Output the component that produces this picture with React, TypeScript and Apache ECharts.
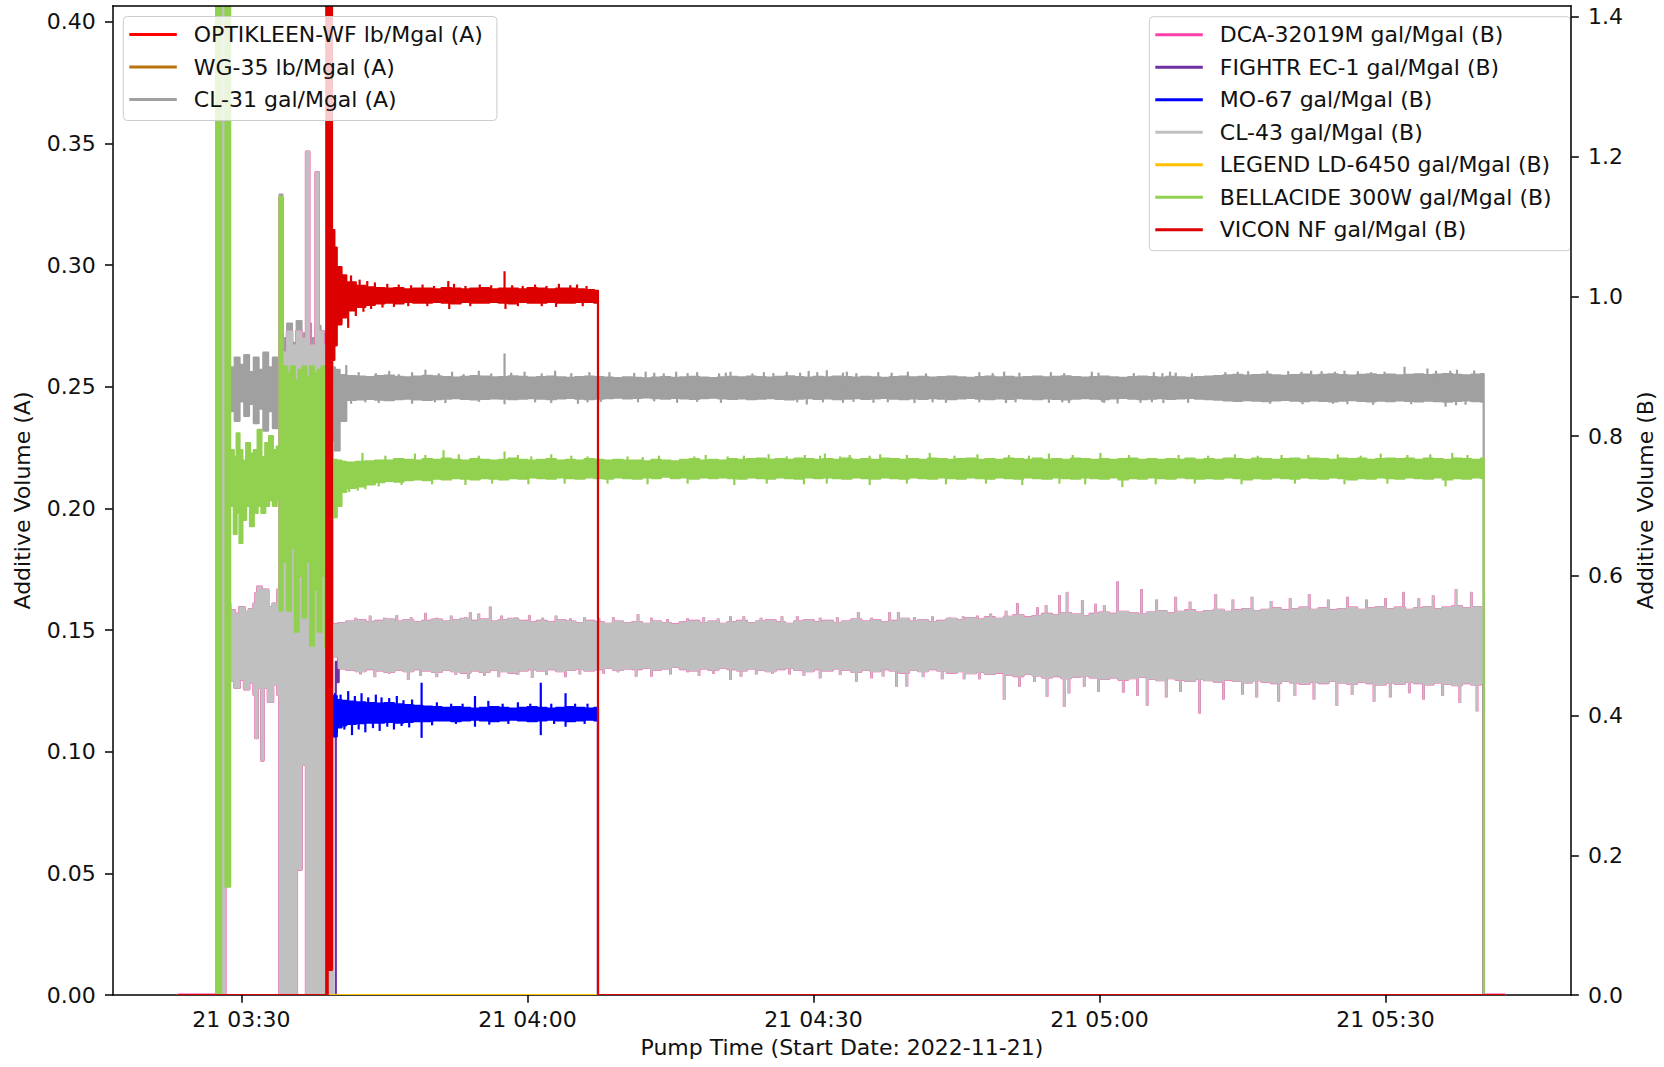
import React, { useEffect, useRef } from "react";
import * as echarts from "echarts";

// Time values are minutes after 2022-11-21 03:00.
type Row = [number, number, number]; // [minute, low envelope, high envelope]
type Spike = [number, number]; // [minute, extreme value of a short excursion]

const X_MIN = 16.5;
const X_MAX = 169.47;
const LEFT_MAX = 0.4065;
const RIGHT_MAX = 1.4157;
const xTickMinutes = [30, 60, 90, 120, 150];
const leftTicks = [0, 0.05, 0.1, 0.15, 0.2, 0.25, 0.3, 0.35, 0.4];
const rightTicks = [0, 0.2, 0.4, 0.6, 0.8, 1.0, 1.2, 1.4];

const startMin = 23.4;
const endMin = 162.5;
const gridStart = 41; // one core reading per minute from 03:41

const seriesNames = [
  "OPTIKLEEN-WF lb/Mgal (A)",
  "WG-35 lb/Mgal (A)",
  "CL-31 gal/Mgal (A)",
  "DCA-32019M gal/Mgal (B)",
  "FIGHTR EC-1 gal/Mgal (B)",
  "MO-67 gal/Mgal (B)",
  "CL-43 gal/Mgal (B)",
  "LEGEND LD-6450 gal/Mgal (B)",
  "BELLACIDE 300W gal/Mgal (B)",
  "VICON NF gal/Mgal (B)",
];
const seriesAxis = [0, 0, 0, 1, 1, 1, 1, 1, 1, 1];
const seriesColors = [
  "#ff0000", "#b8720e", "#a0a0a0", "#ff40a8", "#7030a0",
  "#0000ff", "#c0c0c0", "#ffc000", "#92d050", "#dc0000",
];

const zeroRows: Row[] = [[startMin, 0, 0], [endMin, 0, 0]];
const endRows: Row[] = [[160.3, 0, 0], [endMin, 0, 0]];
const dropRows: Row[] = [[67.4, 0, 0], [endMin, 0, 0]];

// ---------- CL-31 (A) ----------
const cl31Early: Row[] = [
  [23.4, 0, 0], [27.9, 0, 0.5], [28.25, 0.24, 0.26],
  [28.8, 0.240, 0.258], [29.3, 0.236, 0.262], [29.8, 0.244, 0.259], [30.3, 0.238, 0.263],
  [30.8, 0.243, 0.256], [31.3, 0.235, 0.262], [31.8, 0.241, 0.257], [32.3, 0.232, 0.264],
  [32.8, 0.240, 0.258], [33.3, 0.233, 0.262], [33.8, 0.242, 0.260], [34.0, 0.240, 0.329],
  [34.3, 0.250, 0.270], [34.8, 0.250, 0.276], [35.3, 0.250, 0.268], [35.8, 0.250, 0.277],
  [36.3, 0.250, 0.272], [36.8, 0.250, 0.276], [37.3, 0.250, 0.270], [37.8, 0.250, 0.275],
  [38.3, 0.250, 0.272], [38.8, 0.245, 0.262], [39.5, 0.228, 0.258], [39.8, 0.2238, 0.257],
  [40.3, 0.236, 0.2548],
];
const cl31Hi = [
  0.2544, 0.2542, 0.2540, 0.2544, 0.2546, 0.2541, 0.2539, 0.2542, 0.2545, 0.2543,
  0.2540, 0.2538, 0.2541, 0.2544, 0.2542, 0.2539, 0.2540, 0.2543, 0.2541, 0.2538,
  0.2540, 0.2542, 0.2539, 0.2537, 0.2540, 0.2542, 0.2540, 0.2538, 0.2536, 0.2539,
  0.2537, 0.2535, 0.2538, 0.2540, 0.2537, 0.2539, 0.2541, 0.2538, 0.2536, 0.2539,
  0.2541, 0.2539, 0.2542, 0.2540, 0.2538, 0.2541, 0.2543, 0.2540, 0.2538, 0.2541,
  0.2539, 0.2542, 0.2540, 0.2538, 0.2541, 0.2539, 0.2537, 0.2540, 0.2542, 0.2539,
  0.2541, 0.2538, 0.2540, 0.2542, 0.2539, 0.2537, 0.2540, 0.2542, 0.2539, 0.2541,
  0.2538, 0.2540, 0.2542, 0.2539, 0.2541, 0.2543, 0.2540, 0.2538, 0.2540, 0.2542,
  0.2539, 0.2537, 0.2540, 0.2542, 0.2540, 0.2538, 0.2541, 0.2539, 0.2537, 0.2540,
  0.2542, 0.2544, 0.2547, 0.2549, 0.2546, 0.2548, 0.2550, 0.2547, 0.2545, 0.2548,
  0.2550, 0.2547, 0.2549, 0.2551, 0.2548, 0.2546, 0.2549, 0.2551, 0.2548, 0.2550,
  0.2547, 0.2549, 0.2551, 0.2548, 0.2550, 0.2552, 0.2549, 0.2547, 0.2550, 0.2552,
];
const cl31Lo = [
  0.2446, 0.2448, 0.2450, 0.2447, 0.2445, 0.2449, 0.2451, 0.2448, 0.2446, 0.2449,
  0.2451, 0.2453, 0.2450, 0.2448, 0.2450, 0.2452, 0.2451, 0.2449, 0.2451, 0.2453,
  0.2451, 0.2449, 0.2452, 0.2454, 0.2451, 0.2449, 0.2451, 0.2453, 0.2455, 0.2452,
  0.2454, 0.2456, 0.2453, 0.2451, 0.2454, 0.2452, 0.2450, 0.2453, 0.2455, 0.2452,
  0.2450, 0.2452, 0.2449, 0.2451, 0.2453, 0.2450, 0.2448, 0.2451, 0.2453, 0.2450,
  0.2452, 0.2449, 0.2451, 0.2453, 0.2450, 0.2452, 0.2454, 0.2451, 0.2449, 0.2452,
  0.2450, 0.2453, 0.2451, 0.2449, 0.2452, 0.2454, 0.2451, 0.2449, 0.2452, 0.2450,
  0.2453, 0.2451, 0.2449, 0.2452, 0.2450, 0.2448, 0.2451, 0.2453, 0.2451, 0.2449,
  0.2452, 0.2454, 0.2451, 0.2449, 0.2451, 0.2453, 0.2450, 0.2452, 0.2454, 0.2451,
  0.2449, 0.2447, 0.2444, 0.2442, 0.2445, 0.2443, 0.2441, 0.2444, 0.2446, 0.2443,
  0.2441, 0.2444, 0.2442, 0.2440, 0.2443, 0.2445, 0.2442, 0.2440, 0.2443, 0.2441,
  0.2444, 0.2442, 0.2440, 0.2443, 0.2441, 0.2439, 0.2442, 0.2444, 0.2441, 0.2439,
];
const cl31Spikes: Spike[] = [
  [41.0, 0.2589], [42.3, 0.2560], [44.1, 0.2556], [45.5, 0.2565], [46.5, 0.2552], [47.9, 0.2560],
  [49.3, 0.2570], [50.7, 0.2555], [52.1, 0.2562], [53.3, 0.2552], [54.9, 0.2566], [56.2, 0.2555],
  [57.6, 0.2637], [58.3, 0.2558], [59.7, 0.2562], [61.5, 0.2555], [62.9, 0.2566], [64.6, 0.2556],
  [66.5, 0.2560], [68.6, 0.2560], [71.2, 0.2557], [72.4, 0.2562], [73.3, 0.2558], [74.3, 0.2555],
  [75.6, 0.2562], [76.8, 0.2556], [77.8, 0.2560], [80.1, 0.2555], [80.8, 0.2558], [81.3, 0.2562],
  [83.6, 0.2555], [84.8, 0.2560], [85.8, 0.2556], [87.2, 0.2562], [88.6, 0.2558], [89.5, 0.2565],
  [90.4, 0.2560], [91.4, 0.2568], [93.1, 0.2558], [93.5, 0.2562], [94.5, 0.2556], [96.8, 0.2560],
  [98.2, 0.2558], [99.9, 0.2562], [101.8, 0.2555], [107.4, 0.2560], [108.8, 0.2556], [110.0, 0.2562],
  [111.6, 0.2558], [114.9, 0.2560], [116.3, 0.2556], [119.2, 0.2562], [119.9, 0.2558], [123.6, 0.2556],
  [125.7, 0.2560], [126.6, 0.2556], [127.4, 0.2562], [128.0, 0.2558], [129.7, 0.2555], [133.2, 0.2560],
  [134.5, 0.2562], [135.6, 0.2564], [137.6, 0.2566], [139.8, 0.2564], [141.2, 0.2562], [142.2, 0.2566],
  [143.3, 0.2564], [144.7, 0.2562], [145.7, 0.2566], [147.1, 0.2564], [148.5, 0.2560], [149.9, 0.2562],
  [152.0, 0.2582], [154.4, 0.2575], [155.3, 0.2566], [156.8, 0.2566], [157.5, 0.2570], [159.3, 0.2567],
  [41.5, 0.2430], [43.0, 0.2436], [44.4, 0.2433], [47.9, 0.2430], [50.3, 0.2436], [51.4, 0.2433],
  [54.9, 0.2438], [57.6, 0.2428], [60.8, 0.2436], [62.5, 0.2433], [65.3, 0.2430], [66.3, 0.2436],
  [67.7, 0.2438], [71.6, 0.2436], [73.3, 0.2440], [75.7, 0.2434], [77.8, 0.2438], [80.3, 0.2434],
  [88.3, 0.2436], [89.3, 0.2427], [91.0, 0.2436], [93.1, 0.2434], [94.2, 0.2438], [96.3, 0.2434],
  [97.8, 0.2436], [100.6, 0.2433], [102.5, 0.2436], [103.9, 0.2434], [107.4, 0.2436], [110.2, 0.2433],
  [111.2, 0.2436], [114.7, 0.2434], [116.1, 0.2436], [116.8, 0.2433], [120.3, 0.2436], [120.5, 0.2434],
  [121.9, 0.2431], [124.3, 0.2434], [125.5, 0.2436], [126.7, 0.2433], [129.3, 0.2434], [137.9, 0.2430],
  [141.3, 0.2428], [144.5, 0.2430], [146.0, 0.2428], [148.7, 0.2426], [152.7, 0.2428], [156.3, 0.2418],
  [157.4, 0.2424], [158.4, 0.2426],
];

// ---------- BELLACIDE 300W (B) ----------
const bellEarly: Row[] = [
  [23.4, 0, 0], [27.35, 0, 1.6], [27.87, 1.6, 1.6], [28.33, 0.155, 1.6],
  [28.82, 0.70, 0.78], [29.2, 0.66, 0.77], [29.5, 0.69, 0.804], [29.8, 0.647, 0.78],
  [30.1, 0.68, 0.765], [30.5, 0.70, 0.79], [30.9, 0.671, 0.775], [31.3, 0.69, 0.78],
  [31.7, 0.70, 0.809], [32.1, 0.69, 0.77], [32.5, 0.70, 0.79], [32.9, 0.708, 0.80],
  [33.3, 0.70, 0.78], [33.7, 0.71, 0.785], [34.0, 0.55, 1.142], [34.3, 0.62, 0.90],
  [34.8, 0.55, 0.89], [35.2, 0.64, 0.90], [35.6, 0.52, 0.88], [36.0, 0.60, 0.895],
  [36.4, 0.54, 0.90], [36.8, 0.62, 0.885], [37.2, 0.50, 0.90], [37.6, 0.58, 0.89],
  [38.0, 0.52, 0.895], [38.4, 0.60, 0.90], [38.8, 0.498, 0.88], [39.5, 0.684, 0.766],
  [40.0, 0.70, 0.765], [40.5, 0.72, 0.763],
];
const bellHi = [
  0.762, 0.763, 0.764, 0.765, 0.765, 0.767, 0.766, 0.765, 0.767, 0.766,
  0.768, 0.766, 0.765, 0.767, 0.766, 0.765, 0.766, 0.768, 0.766, 0.765,
  0.766, 0.767, 0.765, 0.766, 0.765, 0.767, 0.766, 0.765, 0.766, 0.765,
  0.765, 0.764, 0.766, 0.765, 0.764, 0.766, 0.767, 0.765, 0.766, 0.765,
  0.767, 0.766, 0.767, 0.768, 0.766, 0.767, 0.766, 0.768, 0.767, 0.766,
  0.767, 0.766, 0.768, 0.766, 0.767, 0.766, 0.768, 0.767, 0.766, 0.767,
  0.766, 0.768, 0.767, 0.766, 0.767, 0.768, 0.766, 0.767, 0.766, 0.768,
  0.767, 0.766, 0.768, 0.766, 0.767, 0.766, 0.768, 0.767, 0.766, 0.767,
  0.766, 0.767, 0.768, 0.766, 0.767, 0.766, 0.767, 0.766, 0.768, 0.766,
  0.767, 0.766, 0.768, 0.767, 0.766, 0.768, 0.767, 0.766, 0.767, 0.768,
  0.766, 0.768, 0.767, 0.766, 0.768, 0.767, 0.768, 0.766, 0.767, 0.768,
  0.767, 0.768, 0.766, 0.768, 0.767, 0.766, 0.768, 0.767, 0.766, 0.768,
];
const bellLo = [
  0.726, 0.728, 0.731, 0.734, 0.736, 0.735, 0.737, 0.738, 0.737, 0.739,
  0.738, 0.740, 0.739, 0.738, 0.740, 0.739, 0.738, 0.740, 0.739, 0.741,
  0.740, 0.739, 0.741, 0.740, 0.739, 0.741, 0.740, 0.739, 0.741, 0.740,
  0.739, 0.741, 0.740, 0.742, 0.740, 0.741, 0.739, 0.741, 0.740, 0.741,
  0.740, 0.739, 0.741, 0.740, 0.739, 0.741, 0.740, 0.739, 0.741, 0.740,
  0.741, 0.740, 0.739, 0.741, 0.740, 0.739, 0.741, 0.740, 0.739, 0.741,
  0.740, 0.739, 0.741, 0.740, 0.739, 0.741, 0.740, 0.739, 0.741, 0.740,
  0.739, 0.741, 0.740, 0.739, 0.741, 0.740, 0.739, 0.741, 0.740, 0.739,
  0.741, 0.738, 0.740, 0.739, 0.741, 0.740, 0.739, 0.741, 0.740, 0.739,
  0.740, 0.739, 0.741, 0.740, 0.738, 0.740, 0.739, 0.741, 0.740, 0.739,
  0.741, 0.740, 0.739, 0.741, 0.740, 0.738, 0.740, 0.739, 0.741, 0.740,
  0.739, 0.741, 0.740, 0.739, 0.741, 0.738, 0.740, 0.739, 0.741, 0.740,
];
const bellSpikes: Spike[] = [
  [42.7, 0.776], [45.1, 0.772], [48.2, 0.775], [49.3, 0.773], [51.2, 0.780], [52.8, 0.774],
  [54.9, 0.772], [57.6, 0.778], [59.0, 0.773], [60.4, 0.771], [62.5, 0.774], [64.6, 0.772],
  [66.3, 0.771], [70.5, 0.771], [72.1, 0.770], [73.8, 0.772], [77.5, 0.771], [78.7, 0.773],
  [81.0, 0.771], [82.7, 0.772], [85.3, 0.774], [87.2, 0.771], [89.1, 0.773], [90.7, 0.772],
  [91.2, 0.775], [92.8, 0.771], [93.8, 0.773], [95.9, 0.772], [97.0, 0.774], [99.8, 0.773],
  [102.2, 0.776], [104.8, 0.772], [107.2, 0.774], [110.5, 0.773], [112.6, 0.772], [114.7, 0.775],
  [117.2, 0.773], [120.1, 0.776], [123.1, 0.773], [128.3, 0.773], [131.4, 0.772], [134.2, 0.774],
  [136.6, 0.772], [139.1, 0.773], [141.9, 0.773], [145.0, 0.774], [147.4, 0.772], [149.5, 0.775],
  [152.3, 0.773], [154.7, 0.774], [157.0, 0.776], [158.6, 0.773],
  [41.3, 0.720], [42.2, 0.722], [43.0, 0.724], [44.4, 0.728], [46.8, 0.730], [50.0, 0.731],
  [53.5, 0.730], [56.3, 0.732], [60.1, 0.731], [63.9, 0.732], [68.4, 0.732], [72.6, 0.731],
  [76.8, 0.732], [81.7, 0.730], [85.1, 0.732], [89.0, 0.731], [91.4, 0.732], [95.9, 0.730],
  [99.8, 0.732], [103.9, 0.731], [108.1, 0.732], [111.9, 0.730], [115.8, 0.732], [118.5, 0.731],
  [122.4, 0.727], [125.9, 0.731], [130.0, 0.732], [134.9, 0.731], [140.5, 0.732], [145.7, 0.731],
  [150.2, 0.732], [156.3, 0.728],
];

// ---------- CL-43 (B); DCA-32019M reads the same, visible only at the edges ----------
const cl43Early: Row[] = [
  [23.4, 0, 0], [27.9, 0, 1.6], [28.3, 0.45, 0.56],
  [28.8, 0.45, 0.55], [29.3, 0.44, 0.545], [29.8, 0.452, 0.555], [30.3, 0.438, 0.548],
  [30.8, 0.448, 0.552], [31.3, 0.43, 0.56], [31.5, 0.368, 0.575], [31.7, 0.44, 0.584],
  [32.1, 0.336, 0.57], [32.3, 0.44, 0.58], [32.8, 0.42, 0.555], [33.3, 0.445, 0.56],
  [33.8, 0.43, 0.58], [34.0, 0, 1.14], [34.3, 0, 0.92], [34.8, 0, 0.95], [35.3, 0, 0.93],
  [35.8, 0.18, 0.95], [36.3, 0.33, 0.94], [36.8, 0, 1.207], [37.1, 0, 0.93],
  [37.8, 0, 1.177], [38.1, 0, 0.95], [38.6, 0, 0.93], [39.5, 0.485, 0.53],
  [40.2, 0.468, 0.532],
];
const cl43Hi = [
  0.534, 0.536, 0.533, 0.535, 0.537, 0.534, 0.536, 0.533, 0.535, 0.537,
  0.534, 0.536, 0.538, 0.535, 0.537, 0.534, 0.536, 0.538, 0.535, 0.533,
  0.535, 0.533, 0.536, 0.534, 0.532, 0.535, 0.533, 0.531, 0.534, 0.532,
  0.533, 0.531, 0.534, 0.532, 0.530, 0.533, 0.535, 0.532, 0.534, 0.531,
  0.533, 0.535, 0.532, 0.534, 0.536, 0.533, 0.531, 0.534, 0.536, 0.533,
  0.535, 0.532, 0.534, 0.537, 0.534, 0.536, 0.533, 0.535, 0.538, 0.534,
  0.536, 0.533, 0.535, 0.538, 0.536, 0.539, 0.537, 0.540, 0.538, 0.541,
  0.543, 0.540, 0.542, 0.545, 0.543, 0.546, 0.544, 0.542, 0.545, 0.547,
  0.545, 0.548, 0.546, 0.544, 0.547, 0.549, 0.546, 0.548, 0.550, 0.547,
  0.549, 0.551, 0.548, 0.550, 0.552, 0.549, 0.551, 0.553, 0.550, 0.552,
  0.554, 0.551, 0.553, 0.550, 0.552, 0.554, 0.551, 0.553, 0.555, 0.552,
  0.554, 0.551, 0.553, 0.555, 0.552, 0.554, 0.556, 0.553, 0.555, 0.552,
];
const cl43Lo = [
  0.466, 0.464, 0.467, 0.465, 0.463, 0.466, 0.464, 0.467, 0.465, 0.463,
  0.466, 0.464, 0.462, 0.465, 0.463, 0.466, 0.464, 0.462, 0.465, 0.467,
  0.465, 0.467, 0.464, 0.466, 0.468, 0.465, 0.467, 0.469, 0.466, 0.468,
  0.467, 0.469, 0.466, 0.468, 0.470, 0.467, 0.465, 0.468, 0.466, 0.469,
  0.467, 0.465, 0.468, 0.466, 0.464, 0.467, 0.469, 0.466, 0.464, 0.467,
  0.465, 0.468, 0.466, 0.463, 0.466, 0.464, 0.467, 0.465, 0.462, 0.466,
  0.464, 0.467, 0.465, 0.462, 0.464, 0.461, 0.463, 0.460, 0.462, 0.459,
  0.457, 0.460, 0.458, 0.455, 0.457, 0.454, 0.456, 0.458, 0.455, 0.453,
  0.455, 0.452, 0.454, 0.456, 0.453, 0.451, 0.454, 0.452, 0.450, 0.453,
  0.451, 0.449, 0.452, 0.450, 0.448, 0.451, 0.449, 0.447, 0.450, 0.448,
  0.446, 0.449, 0.447, 0.450, 0.448, 0.446, 0.449, 0.447, 0.445, 0.448,
  0.446, 0.449, 0.447, 0.445, 0.448, 0.446, 0.444, 0.447, 0.445, 0.448,
];
const cl43Spikes: Spike[] = [
  [42.0, 0.540], [43.5, 0.543], [45.0, 0.540], [46.3, 0.544], [47.8, 0.541], [49.3, 0.547],
  [50.5, 0.540], [52.0, 0.543], [53.5, 0.541], [54.0, 0.548], [54.9, 0.546], [56.1, 0.556],
  [57.3, 0.543], [58.8, 0.541], [60.2, 0.544], [61.6, 0.540], [63.0, 0.543], [64.5, 0.539],
  [66.0, 0.541], [67.5, 0.539], [69.0, 0.541], [71.6, 0.545], [73.0, 0.540], [74.7, 0.538],
  [76.8, 0.539], [78.5, 0.541], [80.0, 0.539], [81.3, 0.542], [82.7, 0.542], [84.5, 0.540],
  [86.7, 0.542], [88.3, 0.542], [90.7, 0.540], [92.5, 0.541], [94.7, 0.548], [96.1, 0.540],
  [98.0, 0.548], [98.9, 0.548], [100.6, 0.541], [102.5, 0.542], [104.3, 0.540], [105.7, 0.542],
  [107.2, 0.543], [108.6, 0.546], [110.2, 0.550], [111.4, 0.561], [113.5, 0.555], [114.4, 0.558],
  [115.8, 0.5725], [116.6, 0.577], [118.2, 0.565], [119.6, 0.560], [120.5, 0.558], [121.9, 0.592],
  [124.4, 0.581], [126.0, 0.566], [128.0, 0.570], [129.5, 0.563], [132.2, 0.574], [134.0, 0.566],
  [136.0, 0.570], [138.0, 0.564], [140.0, 0.568], [142.0, 0.574], [144.0, 0.566], [146.0, 0.570],
  [148.0, 0.566], [150.0, 0.568], [151.9, 0.577], [153.5, 0.568], [155.0, 0.572], [157.4, 0.581],
  [159.0, 0.577],
  [42.5, 0.459], [44.0, 0.455], [45.5, 0.460], [47.5, 0.451], [48.8, 0.457], [50.5, 0.455],
  [52.5, 0.458], [53.8, 0.453], [55.5, 0.457], [57.0, 0.455], [59.0, 0.458], [60.5, 0.454],
  [62.0, 0.458], [64.0, 0.455], [65.5, 0.459], [68.0, 0.460], [69.5, 0.462], [71.4, 0.4557],
  [73.0, 0.4557], [75.0, 0.459], [76.8, 0.462], [78.0, 0.457], [79.5, 0.460], [81.3, 0.4509],
  [82.4, 0.4557], [84.0, 0.459], [85.7, 0.460], [87.5, 0.459], [89.0, 0.457], [90.7, 0.4533],
  [92.8, 0.458], [94.5, 0.4485], [96.1, 0.4533], [97.3, 0.456], [98.7, 0.4414], [99.8, 0.4414],
  [101.5, 0.455], [103.5, 0.452], [105.8, 0.452], [107.4, 0.452], [110.0, 0.4223], [111.6, 0.4414],
  [113.2, 0.448], [114.5, 0.4270], [116.3, 0.4127], [116.8, 0.4318], [118.4, 0.4414], [119.9, 0.4342],
  [122.5, 0.433], [124.0, 0.428], [125.0, 0.414], [127.0, 0.426], [128.5, 0.434], [130.5, 0.403],
  [133.0, 0.423], [135.0, 0.430], [136.5, 0.426], [138.8, 0.420], [140.5, 0.428], [142.5, 0.423],
  [144.9, 0.414], [146.5, 0.430], [148.8, 0.420], [150.5, 0.426], [152.5, 0.432], [154.0, 0.423],
  [156.0, 0.428], [157.8, 0.418], [159.6, 0.406],
];

// ---------- FIGHTR EC-1 (B) ----------
const fightrRows: Row[] = [
  [23.4, 0, 0], [39.9, 0.448, 0.477], [40.2, 0.47, 0.50], [41, 0.485, 0.51], [160.3, 0, 0], [162.5, 0, 0],
];

// ---------- MO-67 (B) ----------
const mo67Early: Row[] = [[23.4, 0, 0], [39.5, 0.37, 0.428], [40.0, 0.383, 0.422], [40.5, 0.386, 0.421]];
const mo67Hi = [
  0.420, 0.419, 0.418, 0.417, 0.418, 0.416, 0.415, 0.414, 0.413, 0.412,
  0.411, 0.412, 0.411, 0.410, 0.411, 0.412, 0.411, 0.410, 0.411, 0.412,
  0.411, 0.410, 0.411, 0.412, 0.411, 0.410, 0.411,
];
const mo67Lo = [
  0.388, 0.389, 0.390, 0.390, 0.391, 0.390, 0.391, 0.392, 0.392, 0.393,
  0.393, 0.392, 0.393, 0.394, 0.393, 0.392, 0.393, 0.394, 0.393, 0.392,
  0.393, 0.394, 0.393, 0.392, 0.393, 0.394, 0.393,
];
const mo67Spikes: Spike[] = [
  [39.8, 0.432], [40.4, 0.430], [41.2, 0.435], [41.9, 0.428], [42.6, 0.432], [43.3, 0.426],
  [44.1, 0.430], [44.7, 0.426], [45.5, 0.425], [46.3, 0.428], [47.0, 0.422], [47.9, 0.423],
  [48.9, 0.447], [50.5, 0.419], [52.0, 0.417], [53.2, 0.417], [54.5, 0.428], [55.9, 0.421],
  [57.4, 0.417], [59.0, 0.419], [60.3, 0.417], [61.4, 0.447], [62.5, 0.417], [64.0, 0.432],
  [65.0, 0.417], [66.3, 0.417],
  [40.0, 0.375], [40.8, 0.380], [41.6, 0.372], [42.3, 0.380], [43.0, 0.376], [43.8, 0.382],
  [44.5, 0.378], [45.3, 0.384], [46.0, 0.380], [46.8, 0.385], [47.6, 0.383], [48.9, 0.368],
  [50.0, 0.386], [52.5, 0.388], [54.5, 0.384], [56.0, 0.387], [58.0, 0.388], [61.4, 0.372],
  [62.8, 0.388], [64.0, 0.384], [66.0, 0.388],
];

// ---------- VICON NF (B) ----------
const viconEarly: Row[] = [
  [23.4, 0, 0], [38.9, 0, 1.6], [39.05, 0.036, 1.6], [39.5, 0.909, 1.095],
  [39.75, 0.93, 1.07], [40.0, 0.96, 1.042], [40.5, 0.97, 1.03],
];
const viconHi = [
  1.020, 1.015, 1.013, 1.012, 1.011, 1.012, 1.010, 1.011, 1.011, 1.010,
  1.012, 1.011, 1.010, 1.011, 1.012, 1.010, 1.011, 1.011, 1.010, 1.012,
  1.011, 1.010, 1.011, 1.011, 1.010, 1.009, 1.008,
];
const viconLo = [
  0.980, 0.985, 0.988, 0.990, 0.991, 0.990, 0.992, 0.991, 0.991, 0.992,
  0.991, 0.990, 0.992, 0.991, 0.991, 0.992, 0.991, 0.990, 0.992, 0.991,
  0.991, 0.992, 0.991, 0.991, 0.992, 0.992, 0.991,
];
const viconSpikes: Spike[] = [
  [41.5, 1.030], [42.4, 1.024], [43.2, 1.022], [44.0, 1.020], [45.3, 1.018], [46.5, 1.017],
  [47.8, 1.016], [49.0, 1.017], [50.2, 1.015], [51.7, 1.022], [52.3, 1.018], [53.5, 1.015],
  [55.0, 1.017], [56.2, 1.016], [57.6, 1.036], [58.4, 1.016], [59.5, 1.015], [60.8, 1.017],
  [62.0, 1.015], [63.3, 1.018], [64.5, 1.016], [65.2, 1.017], [66.2, 1.015],
  [41.2, 0.955], [42.0, 0.972], [42.8, 0.978], [43.6, 0.982], [44.8, 0.984], [46.0, 0.985],
  [47.5, 0.986], [49.5, 0.986], [51.8, 0.982], [54.0, 0.986], [57.7, 0.982], [59.0, 0.986],
  [61.5, 0.986], [63.0, 0.985], [65.8, 0.986],
];

function buildRows(early: Row[], lo: number[], hi: number[], late: Row[]): Row[] {
  const grid: Row[] = lo.map((l, i) => [gridStart + i, l, hi[i]] as Row);
  return [...early, ...grid, ...late].sort((a, b) => a[0] - b[0]);
}

const cl31Rows = buildRows(cl31Early, cl31Lo, cl31Hi, endRows);
const bellRows = buildRows(bellEarly, bellLo, bellHi, endRows);
const cl43Rows = buildRows(cl43Early, cl43Lo, cl43Hi, endRows);
const mo67Rows = buildRows(mo67Early, mo67Lo, mo67Hi, dropRows);
const viconRows = buildRows(viconEarly, viconLo, viconHi, dropRows);

const seriesRows: Row[][] = [
  zeroRows, zeroRows, cl31Rows, cl43Rows, fightrRows, mo67Rows, cl43Rows, zeroRows, bellRows, viconRows,
];
const seriesSpikes: Spike[][] = [
  [], [], cl31Spikes, cl43Spikes, [], mo67Spikes, cl43Spikes, [], bellSpikes, viconSpikes,
];

const FONT = "DejaVu Sans";
const TXT = "#111";

function pad2(n: number) {
  return n < 10 ? "0" + n : String(n);
}

function coreMid(rows: Row[], t: number) {
  let r = rows[0];
  for (const row of rows) {
    if (row[0] <= t) r = row;
    else break;
  }
  return (r[1] + r[2]) / 2;
}

function makeSeries(idx: number) {
  const rows = seriesRows[idx];
  const spikes = seriesSpikes[idx];
  const color = seriesColors[idx];
  const lw = idx === 3 ? 2.8 : 2.2;
  return {
    type: "custom",
    name: seriesNames[idx],
    xAxisIndex: 0,
    yAxisIndex: seriesAxis[idx],
    data: rows,
    encode: { x: 0, y: [1, 2] },
    clip: true,
    silent: true,
    z: 2,
    itemStyle: { color },
    renderItem: (params: any, api: any) => {
      if (params.dataIndex !== 0) return null;
      const cs = params.coordSys;
      const top = cs.y - 2;
      const bottom = cs.y + cs.height + 2;
      const pt = (t: number, v: number) => {
        const p = api.coord([t, v]);
        return [p[0], Math.max(top, Math.min(bottom, p[1]))];
      };
      const n = rows.length;
      const pts: number[][] = [];
      for (let i = 0; i < n; i++) {
        pts.push(pt(rows[i][0], rows[i][2]));
        if (i < n - 1) pts.push(pt(rows[i + 1][0], rows[i][2]));
      }
      for (let i = n - 1; i >= 0; i--) {
        if (i < n - 1) pts.push(pt(rows[i + 1][0], rows[i][1]));
        pts.push(pt(rows[i][0], rows[i][1]));
      }
      const children: any[] = [
        {
          type: "polygon",
          shape: { points: pts },
          style: { fill: color, stroke: color, lineWidth: lw, lineJoin: "round" },
        },
      ];
      for (const [t, v] of spikes) {
        const a = pt(t, coreMid(rows, t));
        const b = pt(t, v);
        children.push({
          type: "line",
          shape: { x1: a[0], y1: a[1], x2: b[0], y2: b[1] },
          style: { stroke: color, lineWidth: lw, lineCap: "butt" },
        });
      }
      return { type: "group", children };
    },
  };
}

const legendCommon = {
  orient: "vertical",
  itemWidth: 47.5,
  itemHeight: 3,
  itemGap: 8.5,
  selectedMode: false,
  backgroundColor: "rgba(255,255,255,0.8)",
  borderColor: "#cccccc",
  borderWidth: 1,
  borderRadius: 4,
  textStyle: { fontFamily: FONT, fontSize: 22, color: TXT, lineHeight: 24, padding: [0, 0, 0, 12] },
};

const axisLineStyle = { color: "#000", width: 1.5 };

const option: any = {
  animation: false,
  backgroundColor: "#ffffff",
  grid: { left: 112.7, right: 86.3, top: 6, bottom: 72, containLabel: false },
  legend: [
    {
      ...legendCommon,
      left: 123.3,
      top: 16.5,
      padding: [6, 14, 9, 6],
      data: seriesNames.slice(0, 3).map((name) => ({ name, icon: "rect" })),
    },
    {
      ...legendCommon,
      left: 1149.3,
      top: 16.7,
      padding: [6, 19, 9, 6],
      data: seriesNames.slice(3).map((name) => ({ name, icon: "rect" })),
    },
  ],
  xAxis: [
    {
      type: "value",
      min: X_MIN,
      max: X_MAX,
      position: "bottom",
      z: 1,
      name: "Pump Time (Start Date: 2022-11-21)",
      nameLocation: "middle",
      nameGap: 41,
      nameTextStyle: { fontFamily: FONT, fontSize: 22, color: TXT },
      axisLine: { show: true, onZero: false, lineStyle: axisLineStyle },
      axisTick: { show: true, length: 7.7, lineStyle: axisLineStyle, customValues: xTickMinutes },
      axisLabel: {
        show: true,
        margin: 13,
        fontFamily: FONT,
        fontSize: 22,
        color: TXT,
        customValues: xTickMinutes,
        formatter: (v: number) => {
          const h = 3 + Math.floor(v / 60);
          const m = Math.round(v % 60);
          return "21 " + pad2(h) + ":" + pad2(m);
        },
      },
      splitLine: { show: false },
    },
    {
      type: "value",
      min: X_MIN,
      max: X_MAX,
      position: "top",
      z: 10,
      axisLine: { show: true, onZero: false, lineStyle: axisLineStyle },
      axisTick: { show: false },
      axisLabel: { show: false },
      splitLine: { show: false },
    },
  ],
  yAxis: [
    {
      type: "value",
      min: 0,
      max: LEFT_MAX,
      position: "left",
      z: 10,
      name: "Additive Volume (A)",
      nameLocation: "middle",
      nameGap: 79,
      nameTextStyle: { fontFamily: FONT, fontSize: 22, color: TXT },
      axisLine: { show: true, onZero: false, lineStyle: axisLineStyle },
      axisTick: { show: true, length: 7.7, lineStyle: axisLineStyle, customValues: leftTicks },
      axisLabel: {
        show: true,
        margin: 17,
        fontFamily: FONT,
        fontSize: 22,
        color: TXT,
        customValues: leftTicks,
        formatter: (v: number) => v.toFixed(2),
      },
      splitLine: { show: false },
    },
    {
      type: "value",
      min: 0,
      max: RIGHT_MAX,
      position: "right",
      z: 10,
      name: "Additive Volume (B)",
      nameLocation: "middle",
      nameGap: 57,
      nameTextStyle: { fontFamily: FONT, fontSize: 22, color: TXT },
      axisLine: { show: true, onZero: false, lineStyle: axisLineStyle },
      axisTick: { show: true, length: 7.7, lineStyle: axisLineStyle, customValues: rightTicks },
      axisLabel: {
        show: true,
        margin: 17,
        fontFamily: FONT,
        fontSize: 22,
        color: TXT,
        customValues: rightTicks,
        formatter: (v: number) => v.toFixed(1),
      },
      splitLine: { show: false },
    },
  ],
  series: seriesNames.map((_, i) => makeSeries(i)),
};

export default function App() {
  const ref = useRef<HTMLDivElement>(null);
  useEffect(() => {
    if (!ref.current) return;
    const chart = echarts.init(ref.current, null, { renderer: "svg" });
    chart.setOption(option);
    return () => {
      chart.dispose();
    };
  }, []);
  return (
    <div
      ref={ref}
      style={{ position: "fixed", left: 0, top: 0, width: 1664, height: 1067, background: "#fff" }}
    />
  );
}
